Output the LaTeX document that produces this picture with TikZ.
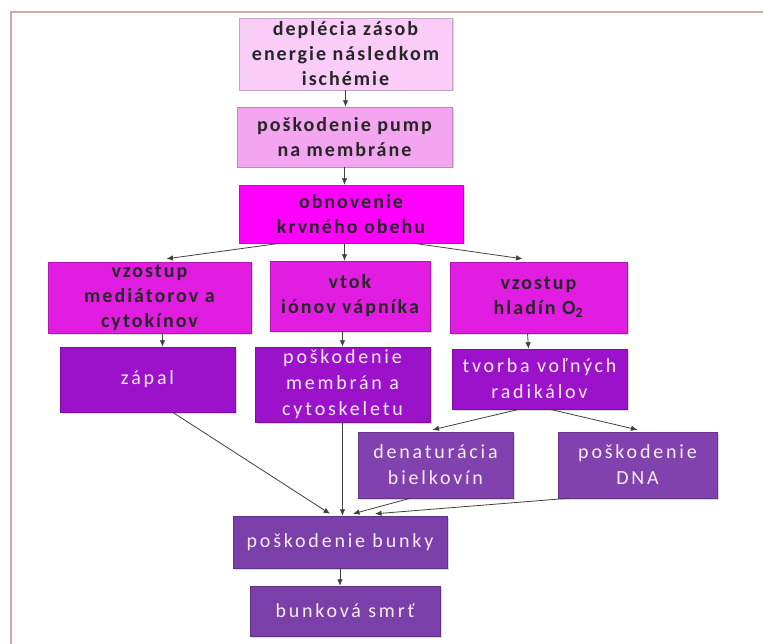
\documentclass[tikz,border=0pt]{standalone}
\usepackage{fontspec}
\setmainfont{Carlito}
\newfontfamily\tmavy{Carlito}[LetterSpace=10]
\newfontfamily\svetly{Carlito}[LetterSpace=14]
\usetikzlibrary{arrows.meta,shadows}

\definecolor{ram}{HTML}{D2A8A8}
\definecolor{ruzova}{HTML}{F9CDF7}
\definecolor{ruzova2}{HTML}{F3A6EF}
\definecolor{magenta1}{HTML}{FF00FF}
\definecolor{magenta2}{HTML}{E01DE0}
\definecolor{fialova}{HTML}{9C12CB}
\definecolor{fialova2}{HTML}{8141AE}
\definecolor{fialova3}{HTML}{7B3FA9}

\tikzstyle{blok} = [rectangle, align=center, inner sep=2pt, drop shadow={shadow xshift=1.5pt, shadow yshift=-1.5pt, opacity=0.3}]
\tikzstyle{cierny} = [blok, font=\tmavy\bfseries\fontsize{20}{25}\selectfont, text=black!85]
\tikzstyle{biely} = [blok, font=\svetly\fontsize{20}{26}\selectfont, text=white!93!violet]
\tikzstyle{sipka} = [-{Latex[length=6.5pt,width=5.5pt]}, draw=black!75, line width=0.8pt]

\begin{document}
\begin{tikzpicture}[x=1pt,y=-1pt]
	\useasboundingbox[fill=white] (0,0) rectangle (763,644);
	\draw[ram, line width=2pt] (11,644) -- (11,12) -- (763,12);

	\node[cierny, fill=ruzova, draw=ruzova!80!black, minimum width=213, minimum height=72] (depl) at (345.5,54) {deplécia zásob\\energie následkom\\ischémie};
	\node[cierny, fill=ruzova2, draw=ruzova2!80!black, minimum width=215, minimum height=60] (pumpa) at (344.5,137) {poškodenie pump\\na membráne};
	\node[cierny, fill=magenta1, draw=magenta1!80!black, minimum width=224, minimum height=58] (obeh) at (351,214) {obnovenie\\krvného obehu};

	\node[cierny, fill=magenta2, draw=magenta2!80!black, minimum width=203, minimum height=71] (medi) at (149.5,297.5) {vzostup\\mediátorov a\\cytokínov};
	\node[cierny, fill=magenta2, draw=magenta2!80!black, minimum width=160, minimum height=70] (vapnik) at (350,296) {vtok\\iónov vápníka};
	\node[cierny, fill=magenta2, draw=magenta2!80!black, minimum width=177, minimum height=71] (kyslik) at (538.5,297.5) {vzostup\\hladín O\textsubscript{2}};

	\node[biely, fill=fialova, draw=fialova!80!black, minimum width=175, minimum height=65] (zapal) at (147.5,379.5) {zápal};
	\node[biely, fill=fialova, draw=fialova!80!black, minimum width=175, minimum height=75] (membr) at (342.5,384.5) {poškodenie\\membrán a\\cytoskeletu};
	\node[biely, fill=fialova, draw=fialova!80!black, minimum width=175, minimum height=60] (radik) at (539.5,379) {tvorba voľných\\radikálov};

	\node[biely, fill=fialova2, draw=fialova2!80!black, minimum width=155, minimum height=66] (denat) at (435.5,465) {denaturácia\\bielkovín};
	\node[biely, fill=fialova2, draw=fialova2!80!black, minimum width=159, minimum height=66] (dna) at (637.5,465) {poškodenie\\DNA};

	\node[biely, fill=fialova3, draw=fialova3!80!black, minimum width=214, minimum height=52] (bunka) at (340,542) {poškodenie bunky};
	\node[biely, fill=fialova3, draw=fialova3!80!black, minimum width=190, minimum height=50] (smrt) at (345,611) {bunková smrť};

	\draw[sipka] (depl.south) -- (depl.south |- pumpa.north);
	\draw[sipka] (pumpa.south) -- (pumpa.south |- obeh.north);
	\draw[sipka] ([xshift=42pt]obeh.south west) -- ([xshift=17pt,yshift=3pt]medi.north);
	\draw[sipka] (obeh.south -| pumpa.south) -- (vapnik.north -| pumpa.south);
	\draw[sipka] ([xshift=-50pt]obeh.south east) -- ([xshift=-16pt,yshift=3pt]kyslik.north);

	\draw[sipka] ([xshift=13pt]medi.south) -- ([xshift=15pt]zapal.north);
	\draw[sipka] (vapnik.south -| membr.north) -- (membr.north);
	\draw[sipka] ([xshift=-11pt]kyslik.south) -- ([xshift=-11pt]radik.north);

	\draw[sipka] ([xshift=-20pt]radik.south) -- ([xshift=-3pt,yshift=2pt]denat.north);
	\draw[sipka] ([xshift=10pt]radik.south) -- ([yshift=2pt]dna.north);

	\draw[sipka] ([xshift=25pt]zapal.south) -- ([xshift=-10pt,yshift=2pt]bunka.north);
	\draw[sipka] (membr.south) -- (membr.south |- bunka.north);
	\draw[sipka] ([xshift=-25pt]denat.south) -- ([xshift=13pt,yshift=2pt]bunka.north);
	\draw[sipka] ([xshift=12pt]dna.south west) -- ([xshift=35pt,yshift=2pt]bunka.north);

	\draw[sipka] (bunka.south) -- (bunka.south |- smrt.north);
\end{tikzpicture}
\end{document}
